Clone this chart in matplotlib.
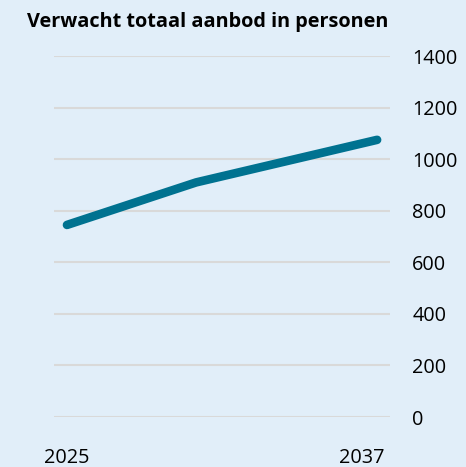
import matplotlib.pyplot as plt
import matplotlib.transforms as mtransforms

# data
jaren = [2025, 2030, 2037]
aanbod = [745, 910, 1075]
y_ticks = [0, 200, 400, 600, 800, 1000, 1200, 1400]
x_ticks = [2025, 2037]

bg = '#E1EEF9'
plt.rcParams['font.family'] = ['Open Sans', 'DejaVu Sans']

fig = plt.figure(figsize=(4.66, 4.67), dpi=100, facecolor=bg)
ax = fig.add_axes([0.116, 0.107, 0.721, 0.773], facecolor=bg)

ax.plot(jaren, aanbod, color='#007290', linewidth=6.2, solid_capstyle='round',
        solid_joinstyle='round', zorder=3)

ax.set_xlim(2024.5, 2037.5)
ax.set_ylim(0, 1400)
ax.set_yticks(y_ticks)
ax.set_xticks(x_ticks)
ax.yaxis.tick_right()
ax.tick_params(axis='y', length=0, pad=16, labelsize=14.3, colors='black')
ax.tick_params(axis='x', length=0, pad=22, labelsize=14.3, colors='black')
ax.grid(axis='y', color='#D9D9D9', linewidth=1.5)
ax.set_axisbelow(True)
for s in ax.spines.values():
    s.set_visible(False)

# 2037 label sits a little left of the last point
lbl = ax.get_xticklabels()[1]
lbl.set_transform(lbl.get_transform() + mtransforms.ScaledTranslation(-15 / 100, 0, fig.dpi_scale_trans))

fig.text(27 / 466, 1 - 22 / 467, 'Verwacht totaal aanbod in personen', ha='left', va='center',
         fontsize=14.3, fontweight='bold')

fig.savefig('out.png', dpi=100, facecolor=bg)
